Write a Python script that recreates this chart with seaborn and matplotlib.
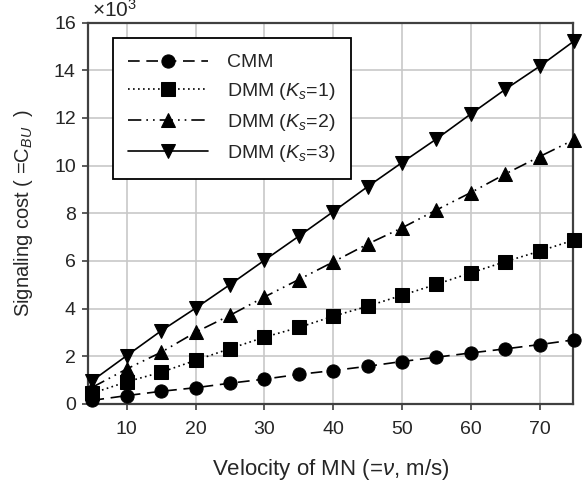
import matplotlib
matplotlib.use("Agg")
import matplotlib.pyplot as plt
import seaborn as sns
import pandas as pd

velocity = [5, 10, 15, 20, 25, 30, 35, 40, 45, 50, 55, 60, 65, 70, 75]
cmm = [0.15, 0.35, 0.53, 0.68, 0.87, 1.04, 1.24, 1.40, 1.58, 1.78, 1.96, 2.14, 2.31, 2.49, 2.69]
dmm_k1 = [0.45, 0.93, 1.33, 1.83, 2.32, 2.80, 3.21, 3.68, 4.10, 4.56, 5.02, 5.50, 5.97, 6.41, 6.88]
dmm_k2 = [0.70, 1.47, 2.17, 3.01, 3.72, 4.49, 5.22, 5.96, 6.71, 7.39, 8.14, 8.87, 9.65, 10.38, 11.09]
dmm_k3 = [0.98, 2.03, 3.07, 4.02, 5.01, 6.03, 7.04, 8.07, 9.12, 10.13, 11.12, 12.17, 13.20, 14.17, 15.23]
labels = ["CMM", r"DMM ($K_s$=1)", r"DMM ($K_s$=2)", r"DMM ($K_s$=3)"]
x_ticks = [10, 20, 30, 40, 50, 60, 70]
y_ticks = [0, 2, 4, 6, 8, 10, 12, 14, 16]

sns.set_style("white")
plt.rcParams['font.family'] = ['Liberation Sans', 'DejaVu Sans']
plt.rcParams['mathtext.fontset'] = 'custom'
plt.rcParams['mathtext.rm'] = 'Liberation Sans'
plt.rcParams['mathtext.it'] = 'Liberation Sans:italic'

fig = plt.figure(figsize=(5.85, 4.82), dpi=100)
ax = fig.add_axes([0.151, 0.162, 0.828, 0.791])

series = [cmm, dmm_k1, dmm_k2, dmm_k3]
markers = ["o", "s", "^", "v"]
styles = [(0, (7, 4)), (0, (1, 2)), (0, (8, 3, 1, 3, 1, 3)), "-"]

for vals, lab, mk, ls in zip(series, labels, markers, styles):
    df = pd.DataFrame({"v": velocity, "c": vals})
    sns.lineplot(data=df, x="v", y="c", ax=ax, color="black", marker=mk,
                 markersize=9.5, markeredgecolor="black", linestyle=ls,
                 linewidth=1.2, label=lab, clip_on=False, zorder=3)

ax.set_xlim(4.4, 74.8)
ax.set_ylim(0, 16)
ax.set_xticks(x_ticks)
ax.set_yticks(y_ticks)
ax.grid(True, color="#c8c8c8", linewidth=1.2)
ax.set_axisbelow(True)
for sp in ax.spines.values():
    sp.set_color("#404040")
    sp.set_linewidth(1.6)
ax.tick_params(axis="both", which="major", direction="out", length=4, width=1.2,
               color="#404040", labelsize=14, left=True, bottom=True)
ax.tick_params(axis="x", pad=8)
ax.tick_params(axis="y", pad=5)

ax.set_xlabel(r"Velocity of MN (=$\nu$, m/s)", fontsize=16, labelpad=14)
ax.set_ylabel(r"Signaling cost ( =C$_{BU}$  )", fontsize=14.5, labelpad=14)
ax.text(0.008, 1.006, r"$\times$10$^3$", transform=ax.transAxes, fontsize=15,
        ha="left", va="bottom")

leg = ax.legend(loc="upper left", bbox_to_anchor=(0.05, 0.959), fontsize=14,
                frameon=True, fancybox=False, edgecolor="black", framealpha=1,
                handlelength=4.1, labelspacing=0.5, borderpad=0.8,
                handletextpad=1.0, borderaxespad=0)
leg.get_frame().set_linewidth(1.3)

fig.savefig("out.png", dpi=100)
